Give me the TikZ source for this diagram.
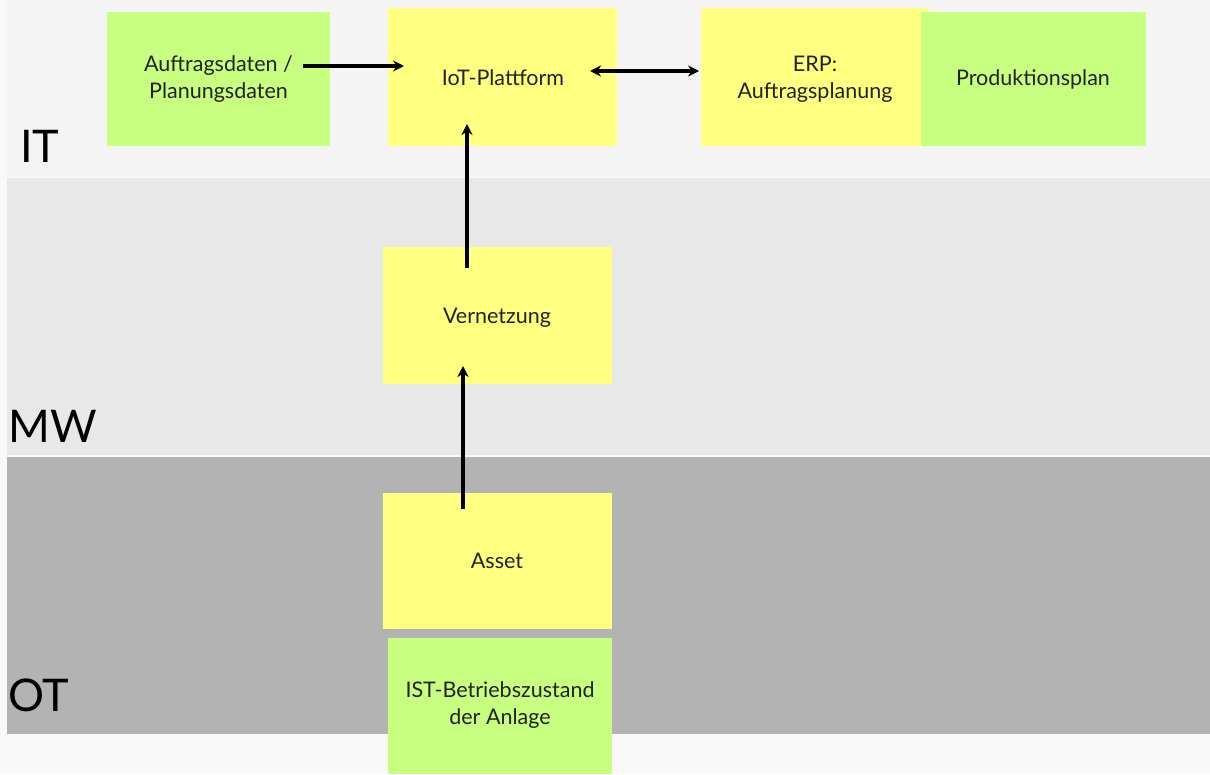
\documentclass[tikz,border=0pt]{standalone}
\usepackage{fontspec}
\setmainfont{Lato}
\usetikzlibrary{arrows.meta}
\definecolor{pagebg}{HTML}{F9F9F9}
\definecolor{itbg}{HTML}{F4F4F4}
\definecolor{mwbg}{HTML}{E8E8E8}
\definecolor{otbg}{HTML}{B3B3B3}
\definecolor{yelbox}{HTML}{FFFF80}
\definecolor{grnbox}{HTML}{C8FF80}
\definecolor{txt}{HTML}{222222}
\begin{document}
\begin{tikzpicture}[x=1pt,y=-1pt,
  box/.style={draw=none,text=txt,font=\fontsize{21.5}{27}\selectfont,align=center},
  layer/.style={text=black,font=\fontsize{45}{45}\selectfont,anchor=base west,inner sep=0pt},
  flow/.style={line width=3.4pt,-{Stealth[length=11pt,width=11pt]}},
  biflow/.style={line width=3.4pt,{Stealth[length=11pt,width=11pt]}-{Stealth[length=11pt,width=11pt]}}]
  % page and layer bands
  \fill[pagebg] (0,0) rectangle (1210,774);
  \fill[itbg] (7,0) rectangle (1210,177);
  \fill[mwbg] (7,178) rectangle (1210,455);
  \fill[otbg] (7,457) rectangle (1210,734);
  % layer labels
  \node[layer] (lit) at (20,162) {IT};
  \node[layer] (lmw) at (8,442) {MW};
  \node[layer] (lot) at (8,711) {OT};
  % IT layer
  \fill[grnbox] (107,12) rectangle (330,146);
  \node[box] (auftrag) at (218.5,79) {Auftragsdaten /\\Planungsdaten};
  \fill[yelbox] (388,8) rectangle (617,146);
  \node[box] (iot) at (503,78) {IoT-Plattform};
  \fill[yelbox] (701,8) rectangle (929,146);
  \node[box] (erp) at (815,79) {ERP:\\Auftragsplanung};
  \fill[grnbox] (921,12) rectangle (1146,146);
  \node[box] (prod) at (1033,79) {Produktionsplan};
  % MW layer
  \fill[yelbox] (383,247) rectangle (612,384);
  \node[box] (vern) at (497,318) {Vernetzung};
  % OT layer
  \fill[yelbox] (383,493) rectangle (612,629);
  \node[box] (asset) at (497,561) {Asset};
  \fill[grnbox] (388,638) rectangle (612,774);
  \node[box] (ist) at (500,705) {IST-Betriebszustand\\der Anlage};
  % connector end points
  \coordinate (a1) at (303,66);
  \coordinate (a2) at (404,66);
  \coordinate (b1) at (590,71);
  \coordinate (b2) at (699,71);
  \coordinate (c1) at (467,268);
  \coordinate (c2) at (467,124);
  \coordinate (d1) at (463,509);
  \coordinate (d2) at (463,366);
  \draw[flow] (a1) -- (a2);
  \draw[biflow] (b1) -- (b2);
  \draw[flow] (c1) -- (c2);
  \draw[flow] (d1) -- (d2);
\end{tikzpicture}
\end{document}
